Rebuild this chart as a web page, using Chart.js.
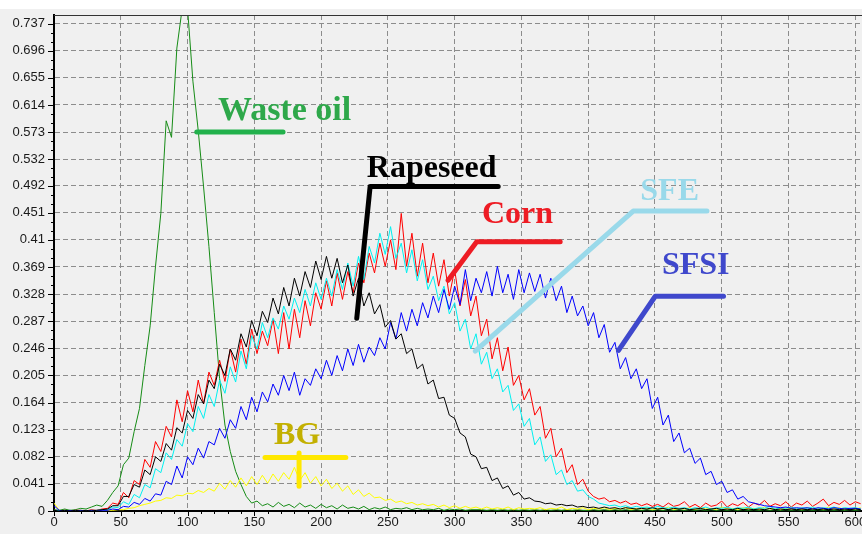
<!DOCTYPE html>
<html>
<head>
<meta charset="utf-8">
<script src="https://cdn.jsdelivr.net/npm/chart.js@4.4.1/dist/chart.umd.min.js"></script>
<style>
  html, body { margin: 0; padding: 0; background: #f0f0f0; }
  #wrap { width: 862px; height: 534px; }
</style>
</head>
<body>
<div id="wrap"><canvas id="grafico" width="862" height="534"></canvas></div>
<script>
// eixo x (passo 4)
const xValues = [
  0,4,8,12,16,20,24,28,32,36,
  40,44,48,52,56,60,64,68,72,76,
  80,84,88,92,96,100,104,108,112,116,
  120,124,128,132,136,140,144,148,152,156,
  160,164,168,172,176,180,184,188,192,196,
  200,204,208,212,216,220,224,228,232,236,
  240,244,248,252,256,260,264,268,272,276,
  280,284,288,292,296,300,304,308,312,316,
  320,324,328,332,336,340,344,348,352,356,
  360,364,368,372,376,380,384,388,392,396,
  400,404,408,412,416,420,424,428,432,436,
  440,444,448,452,456,460,464,468,472,476,
  480,484,488,492,496,500,504,508,512,516,
  520,524,528,532,536,540,544,548,552,556,
  560,564,568,572,576,580,584,588,592,596,
  600,604
];

const wasteOil = [
  0.002,0.001,0.003,0.001,0.002,0.004,0.003,0.006,0.009,0.007,
  0.016,0.028,0.038,0.07,0.08,0.12,0.155,0.22,0.28,0.37,
  0.45,0.59,0.565,0.7,0.76,0.76,0.65,0.575,0.49,0.40,
  0.30,0.20,0.13,0.09,0.06,0.04,0.022,0.012,0.015,0.008,
  0.011,0.006,0.013,0.007,0.01,0.005,0.012,0.006,0.009,0.004,
  0.01,0.005,0.008,0.003,0.009,0.004,0.006,0.003,0.007,0.002,
  0.005,0.003,0.006,0.002,0.004,0.003,0.005,0.002,0.004,0.002,
  0.003,0.002,0.004,0.001,0.003,0.002,0.003,0.001,0.002,0.002,
  0.002,0.001,0.002,0.001,0.002,0.001,0.002,0.001,0.002,0.001,
  0.002,0.001,0.002,0.001,0.002,0.001,0.002,0.001,0.002,0.001,
  0.001,0.002,0.001,0.002,0.001,0.002,0.001,0.002,0.001,0.002,
  0.001,0.002,0.001,0.002,0.001,0.002,0.001,0.002,0.001,0.002,
  0.001,0.002,0.001,0.002,0.001,0.002,0.001,0.002,0.001,0.002,
  0.001,0.002,0.001,0.002,0.001,0.002,0.001,0.002,0.001,0.002,
  0.001,0.002,0.001,0.002,0.001,0.002,0.001,0.002,0.001,0.002,
  0.001,0.002
];

const rapeseed = [
  0.001,0.0,0.001,0.0,0.001,0.0,0.001,0.0,0.001,0.002,
  0.003,0.008,0.008,0.022,0.022,0.04,0.036,0.062,0.055,0.082,
  0.075,0.102,0.092,0.126,0.118,0.152,0.14,0.176,0.162,0.198,
  0.185,0.222,0.205,0.245,0.228,0.268,0.248,0.288,0.265,0.302,
  0.285,0.322,0.298,0.338,0.31,0.352,0.325,0.362,0.338,0.378,
  0.35,0.385,0.352,0.382,0.345,0.372,0.325,0.352,0.31,0.33,
  0.298,0.312,0.278,0.288,0.26,0.268,0.238,0.245,0.215,0.222,
  0.192,0.198,0.17,0.172,0.145,0.14,0.118,0.112,0.086,0.082,
  0.064,0.066,0.046,0.05,0.034,0.038,0.024,0.028,0.018,0.02,
  0.015,0.014,0.011,0.012,0.009,0.01,0.008,0.009,0.006,0.007,
  0.005,0.006,0.004,0.006,0.004,0.005,0.003,0.005,0.004,0.003,
  0.004,0.003,0.005,0.003,0.004,0.002,0.004,0.003,0.004,0.002,
  0.003,0.004,0.002,0.003,0.004,0.002,0.003,0.002,0.004,0.002,
  0.003,0.002,0.003,0.002,0.004,0.002,0.003,0.002,0.003,0.002,
  0.003,0.002,0.003,0.002,0.003,0.002,0.003,0.002,0.003,0.002,
  0.003,0.002
];

const corn = [
  0.001,0.0,0.001,0.0,0.001,0.001,0.0,0.002,0.001,0.003,
  0.004,0.012,0.01,0.028,0.02,0.046,0.04,0.078,0.066,0.105,
  0.09,0.128,0.112,0.168,0.135,0.182,0.15,0.198,0.162,0.21,
  0.19,0.228,0.196,0.245,0.21,0.26,0.222,0.275,0.238,0.272,
  0.25,0.29,0.238,0.3,0.245,0.305,0.262,0.318,0.28,0.33,
  0.305,0.348,0.31,0.36,0.32,0.362,0.33,0.375,0.345,0.39,
  0.36,0.405,0.37,0.41,0.365,0.45,0.37,0.42,0.355,0.405,
  0.345,0.39,0.34,0.38,0.325,0.365,0.31,0.35,0.295,0.325,
  0.265,0.29,0.23,0.262,0.212,0.248,0.19,0.205,0.168,0.185,
  0.145,0.158,0.11,0.125,0.082,0.095,0.058,0.07,0.04,0.048,
  0.03,0.022,0.018,0.02,0.014,0.016,0.012,0.015,0.01,0.012,
  0.008,0.011,0.007,0.01,0.006,0.012,0.007,0.009,0.014,0.006,
  0.01,0.005,0.012,0.007,0.009,0.015,0.006,0.011,0.008,0.013,
  0.006,0.012,0.009,0.016,0.007,0.011,0.008,0.014,0.006,0.012,
  0.009,0.015,0.007,0.012,0.018,0.008,0.013,0.01,0.016,0.009,
  0.014,0.011
];

const sfe = [
  0.0,0.001,0.0,0.001,0.0,0.001,0.0,0.001,0.001,0.002,
  0.002,0.006,0.005,0.014,0.01,0.025,0.02,0.04,0.035,0.064,
  0.058,0.088,0.078,0.108,0.098,0.132,0.12,0.158,0.14,0.176,
  0.158,0.198,0.178,0.218,0.195,0.242,0.215,0.265,0.245,0.285,
  0.262,0.292,0.275,0.31,0.29,0.322,0.3,0.335,0.31,0.345,
  0.32,0.352,0.325,0.365,0.335,0.375,0.34,0.385,0.35,0.4,
  0.375,0.42,0.388,0.43,0.382,0.405,0.36,0.395,0.348,0.38,
  0.335,0.355,0.318,0.34,0.298,0.315,0.272,0.29,0.245,0.268,
  0.222,0.24,0.2,0.215,0.18,0.19,0.152,0.162,0.128,0.14,
  0.1,0.112,0.075,0.085,0.055,0.062,0.04,0.046,0.03,0.032,
  0.022,0.018,0.012,0.01,0.008,0.009,0.006,0.008,0.005,0.007,
  0.005,0.006,0.004,0.007,0.005,0.004,0.006,0.004,0.005,0.003,
  0.005,0.004,0.006,0.003,0.005,0.004,0.006,0.003,0.005,0.004,
  0.006,0.003,0.005,0.004,0.007,0.003,0.005,0.004,0.006,0.003,
  0.005,0.004,0.006,0.003,0.005,0.004,0.006,0.003,0.005,0.004,
  0.005,0.003
];

const sfsi = [
  0.008,0.001,0.0,0.001,0.0,0.001,0.0,0.001,0.0,0.001,
  0.001,0.003,0.002,0.007,0.006,0.013,0.01,0.019,0.015,0.026,
  0.024,0.045,0.04,0.068,0.05,0.082,0.07,0.095,0.08,0.105,
  0.1,0.125,0.11,0.138,0.125,0.158,0.138,0.172,0.15,0.18,
  0.165,0.192,0.175,0.205,0.182,0.21,0.175,0.2,0.19,0.215,
  0.2,0.228,0.205,0.235,0.212,0.245,0.22,0.252,0.225,0.248,
  0.235,0.262,0.245,0.285,0.26,0.3,0.272,0.305,0.28,0.315,
  0.292,0.325,0.3,0.335,0.305,0.34,0.312,0.365,0.318,0.352,
  0.33,0.362,0.325,0.37,0.33,0.358,0.32,0.365,0.33,0.36,
  0.332,0.358,0.322,0.352,0.318,0.34,0.3,0.325,0.295,0.31,
  0.28,0.3,0.262,0.282,0.24,0.255,0.215,0.232,0.2,0.215,
  0.185,0.2,0.155,0.172,0.13,0.145,0.105,0.118,0.088,0.095,
  0.072,0.08,0.055,0.06,0.04,0.045,0.028,0.032,0.018,0.022,
  0.014,0.012,0.01,0.008,0.007,0.006,0.005,0.006,0.004,0.005,
  0.004,0.005,0.003,0.005,0.004,0.003,0.005,0.004,0.003,0.004,
  0.004,0.003
];

const bg = [
  0.012,0.001,0.0,0.001,0.0,0.001,0.0,0.001,0.0,0.001,
  0.001,0.001,0.002,0.002,0.004,0.005,0.008,0.01,0.012,0.015,
  0.016,0.02,0.019,0.024,0.023,0.027,0.026,0.031,0.028,0.034,
  0.03,0.042,0.033,0.046,0.036,0.05,0.038,0.052,0.04,0.054,
  0.042,0.056,0.045,0.058,0.048,0.066,0.046,0.058,0.042,0.052,
  0.038,0.048,0.034,0.042,0.03,0.038,0.025,0.032,0.022,0.027,
  0.02,0.021,0.016,0.018,0.013,0.015,0.011,0.013,0.009,0.011,
  0.008,0.01,0.006,0.009,0.005,0.008,0.004,0.007,0.004,0.006,
  0.003,0.006,0.003,0.005,0.003,0.006,0.002,0.005,0.003,0.004,
  0.003,0.005,0.002,0.004,0.003,0.006,0.002,0.004,0.003,0.005,
  0.002,0.004,0.003,0.005,0.002,0.004,0.003,0.005,0.002,0.004,
  0.003,0.005,0.002,0.004,0.003,0.006,0.002,0.004,0.003,0.005,
  0.002,0.005,0.003,0.004,0.002,0.006,0.003,0.004,0.002,0.005,
  0.003,0.004,0.002,0.006,0.003,0.004,0.002,0.005,0.003,0.004,
  0.002,0.005,0.003,0.004,0.002,0.006,0.003,0.005,0.002,0.004,
  0.003,0.005
];

const yTickLabels = ['0','0.041','0.082','0.123','0.164','0.205','0.246','0.287','0.328','0.369',
  '0.41','0.451','0.492','0.532','0.573','0.614','0.655','0.696','0.737'];
const xTickLabels = ['0','50','100','150','200','250','300','350','400','450','500','550','600'];

// rotulos e linhas de chamada (coordenadas em unidades dos eixos)
const rotulos = [
  { text: 'Waste oil', color: '#2ea84a', line: '#22b14c', size: 34, at: [122.8, 0.591],
    paths: [[[106.9, 0.573], [171.5, 0.573]]] },
  { text: 'Rapeseed', color: '#000000', line: '#000000', size: 32, at: [234.2, 0.505],
    paths: [[[226.7, 0.2914], [236.7, 0.4907], [332.6, 0.4907]]] },
  { text: 'Corn', color: '#ee1c24', line: '#ee1c24', size: 32, at: [320.4, 0.435],
    paths: [[[295.1, 0.3489], [316.5, 0.4071], [379, 0.4071]]] },
  { text: 'SFE', color: '#99d9ea', line: '#99d9ea', size: 32, at: [439, 0.4703],
    paths: [[[315.4, 0.2419], [433.7, 0.4536], [488.9, 0.4536]]] },
  { text: 'SFSI', color: '#3f48cc', line: '#3f48cc', size: 32, at: [455.2, 0.359],
    paths: [[[422.7, 0.243], [450.2, 0.3247], [501.3, 0.3247]]] },
  { text: 'BG', color: '#c3b000', line: '#ffe800', size: 32, at: [164.8, 0.1009],
    paths: [[[158, 0.0808], [218.5, 0.0808]], [[183.5, 0.0877], [183.5, 0.0373]]] }
];

function serie(valores) {
  return xValues.map((x, i) => ({ x: x, y: valores[i] }));
}

function dataset(valores, cor) {
  return {
    data: serie(valores),
    borderColor: cor,
    borderWidth: 1,
    pointRadius: 0,
    tension: 0,
    fill: false
  };
}

const fundo = {
  id: 'fundo',
  beforeDraw(chart) {
    const ctx = chart.ctx;
    ctx.save();
    ctx.fillStyle = '#f0f0f0';
    ctx.fillRect(0, 0, chart.width, chart.height);
    ctx.fillStyle = '#ffffff';
    ctx.fillRect(0, 0, chart.width, 9);
    ctx.restore();
  }
};

const marcas = {
  id: 'marcas',
  afterDraw(chart) {
    const ctx = chart.ctx;
    const a = chart.chartArea;
    const sx = chart.scales.x, sy = chart.scales.y;
    ctx.save();
    ctx.strokeStyle = '#000';
    ctx.lineWidth = 1;
    ctx.beginPath();
    yTickLabels.forEach((t, i) => {
      const v = parseFloat(t);
      const py = Math.round(sy.getPixelForValue(v)) + 0.5;
      ctx.moveTo(a.left - 6, py); ctx.lineTo(a.left, py);
      if (i < yTickLabels.length - 1) {
        const prox = parseFloat(yTickLabels[i + 1]);
        for (let k = 1; k < 3; k++) {
          const pm = Math.round(sy.getPixelForValue(v + (prox - v) * k / 3)) + 0.5;
          ctx.moveTo(a.left - 3, pm); ctx.lineTo(a.left, pm);
        }
      }
    });
    xTickLabels.forEach(t => {
      const v = parseFloat(t);
      const px = Math.round(sx.getPixelForValue(v)) + 0.5;
      ctx.moveTo(px, a.bottom); ctx.lineTo(px, a.bottom + 5);
      for (let k = 1; k < 5; k++) {
        const pm = Math.round(sx.getPixelForValue(v + k * 10)) + 0.5;
        if (pm < a.right) { ctx.moveTo(pm, a.bottom); ctx.lineTo(pm, a.bottom + 3); }
      }
    });
    ctx.stroke();
    ctx.strokeStyle = '#333';
    ctx.beginPath();
    ctx.moveTo(a.left, a.top + 0.5); ctx.lineTo(a.right, a.top + 0.5);
    ctx.stroke();
    ctx.restore();
  }
};

const chamadas = {
  id: 'chamadas',
  afterDatasetsDraw(chart) {
    const ctx = chart.ctx;
    const sx = chart.scales.x, sy = chart.scales.y;
    ctx.save();
    rotulos.forEach(r => {
      ctx.strokeStyle = r.line;
      ctx.lineWidth = 5;
      ctx.lineCap = 'round';
      ctx.lineJoin = 'round';
      r.paths.forEach(p => {
        ctx.beginPath();
        p.forEach((pt, i) => {
          const px = sx.getPixelForValue(pt[0]), py = sy.getPixelForValue(pt[1]);
          if (i === 0) ctx.moveTo(px, py); else ctx.lineTo(px, py);
        });
        ctx.stroke();
      });
      ctx.fillStyle = r.color;
      ctx.font = 'bold ' + r.size + 'px "Liberation Serif", "Times New Roman", serif';
      ctx.textAlign = 'left';
      ctx.textBaseline = 'alphabetic';
      ctx.fillText(r.text, sx.getPixelForValue(r.at[0]), sy.getPixelForValue(r.at[1]));
    });
    ctx.restore();
  }
};

const fonteEixo = { family: '"Liberation Sans", Arial, sans-serif', size: 13 };

new Chart(document.getElementById('grafico'), {
  type: 'line',
  data: {
    datasets: [
      dataset(rapeseed, '#000000'),
      dataset(sfsi, '#0000ff'),
      dataset(sfe, '#00f0f0'),
      dataset(corn, '#ff0000'),
      dataset(bg, '#ffff00'),
      dataset(wasteOil, '#168c16')
    ]
  },
  options: {
    responsive: false,
    animation: false,
    devicePixelRatio: 1,
    layout: { autoPadding: false, padding: { top: 15, left: 0, right: 0, bottom: 0 } },
    plugins: { legend: { display: false }, tooltip: { enabled: false } },
    scales: {
      x: {
        type: 'linear',
        min: 0,
        max: 605,
        afterBuildTicks: s => { s.ticks = xTickLabels.map(t => ({ value: parseFloat(t) })); },
        afterFit: s => { s.height = 23; s.paddingLeft = 0; s.paddingRight = 0; },
        ticks: {
          callback: (v, i) => xTickLabels[i],
          font: fonteEixo,
          color: '#1a1a1a',
          padding: 4,
          maxRotation: 0,
          autoSkip: false
        },
        grid: { color: '#8c8c8c', lineWidth: 1, drawTicks: false },
        border: { display: true, color: '#000', width: 2, dash: [5, 3] }
      },
      y: {
        type: 'linear',
        min: 0,
        max: 0.75,
        afterBuildTicks: s => { s.ticks = yTickLabels.map(t => ({ value: parseFloat(t) })); },
        afterFit: s => { s.width = 54; s.paddingTop = 0; s.paddingBottom = 0; },
        ticks: {
          callback: (v, i) => yTickLabels[i],
          font: fonteEixo,
          color: '#1a1a1a',
          padding: 9,
          autoSkip: false
        },
        grid: { color: '#8c8c8c', lineWidth: 1, drawTicks: false },
        border: { display: true, color: '#000', width: 2, dash: [5, 3] }
      }
    }
  },
  plugins: [fundo, marcas, chamadas]
});
</script>
</body>
</html>
